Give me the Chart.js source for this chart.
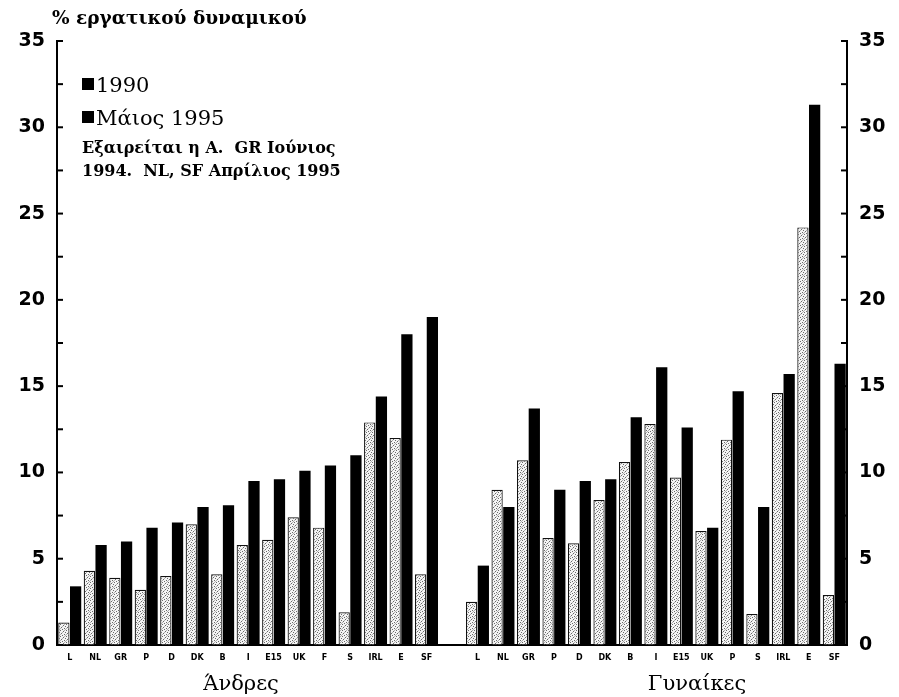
<!DOCTYPE html>
<html>
<head>
<meta charset="utf-8">
<script src="https://cdn.jsdelivr.net/npm/chart.js@4.4.1/dist/chart.umd.min.js"></script>
<style>
html,body{margin:0;padding:0;background:#fff;}
#c{display:block;}
</style>
</head>
<body>
<canvas id="c" width="899" height="697"></canvas>
<script>
// ---- data ----
const menLabels   = ['L','NL','GR','P','D','DK','B','I','E15','UK','F','S','IRL','E','SF'];
const womenLabels = ['L','NL','GR','P','D','DK','B','I','E15','UK','P','S','IRL','E','SF'];
const men1990   = [1.3, 4.3, 3.9, 3.2, 4.0, 7.0, 4.1, 5.8, 6.1, 7.4, 6.8, 1.9, 12.9, 12.0, 4.1];
const men1995   = [3.4, 5.8, 6.0, 6.8, 7.1, 8.0, 8.1, 9.5, 9.6, 10.1, 10.4, 11.0, 14.4, 18.0, 19.0];
const women1990 = [2.5, 9.0, 10.7, 6.2, 5.9, 8.4, 10.6, 12.8, 9.7, 6.6, 11.9, 1.8, 14.6, 24.2, 2.9];
const women1995 = [4.6, 8.0, 13.7, 9.0, 9.5, 9.6, 13.2, 16.1, 12.6, 6.8, 14.7, 8.0, 15.7, 31.3, 16.3];
const yTicksMax = 35;
const yStep = 5;
const seriesNames = ['1990', 'Μάιος 1995'];
const titleText = '% εργατικού δυναμικού';
const noteLines = ['Εξαιρείται η Α.  GR Ιούνιος', '1994.  NL, SF Απρίλιος 1995'];
const groupNames = ['Άνδρες', 'Γυναίκες'];

// combined categories with one blank spacer
const labels = [...menLabels, '', ...womenLabels];
const d1990 = [...men1990, null, ...women1990];
const d1995 = [...men1995, null, ...women1995];

// speckled pattern for 1990 bars
function makePattern(){
  const p = document.createElement('canvas');
  p.width = 6; p.height = 6;
  const g = p.getContext('2d');
  g.fillStyle = '#f4f4f4'; g.fillRect(0,0,6,6);
  g.fillStyle = '#6a6a6a';
  [[0,0],[3,1],[1,3],[4,4],[5,2],[2,5]].forEach(([x,y])=>g.fillRect(x,y,1,1));
  g.fillStyle = '#b0b0b0';
  [[2,2],[5,5],[0,4],[4,0]].forEach(([x,y])=>g.fillRect(x,y,1,1));
  return g.createPattern(p,'repeat');
}
const ctx = document.getElementById('c').getContext('2d');
const pattern = makePattern();

const SERIF = '"DejaVu Serif", "Liberation Serif", serif';

const decor = {
  id: 'decor',
  afterDraw(chart){
    const c = chart.ctx;
    const y = chart.scales.y;
    const a = chart.chartArea;
    c.save();
    // inward minor ticks
    c.strokeStyle = '#000'; c.lineWidth = 2;
    for (let v = 0; v <= yTicksMax; v += 2.5){
      const py = y.getPixelForValue(v);
      c.beginPath(); c.moveTo(a.left, py); c.lineTo(a.left + 6, py); c.stroke();
      c.beginPath(); c.moveTo(a.right - 6, py); c.lineTo(a.right, py); c.stroke();
    }
    // title
    c.fillStyle = '#000';
    c.textBaseline = 'alphabetic';
    c.textAlign = 'left';
    c.font = 'bold 18.5px ' + SERIF;
    c.fillText(titleText, 52, 24);
    // legend
    c.fillRect(82, 78, 12, 12);
    c.fillRect(82, 111, 12, 12);
    c.font = '21px ' + SERIF;
    c.fillText(seriesNames[0], 96, 92);
    c.fillText(seriesNames[1], 96, 125);
    c.font = 'bold 16px ' + SERIF;
    c.fillText(noteLines[0], 82, 153);
    c.fillText(noteLines[1], 82, 176);
    // group labels
    c.textAlign = 'center';
    c.font = '21px ' + SERIF;
    c.fillText(groupNames[0], 241, 690);
    c.fillText(groupNames[1], 697, 690);
    c.restore();
  }
};

const tickFont = {family: '"DejaVu Sans", "Liberation Sans", Arial, sans-serif', size: 19, weight: 'bold'};

new Chart(ctx, {
  type: 'bar',
  data: {
    labels: labels,
    datasets: [
      {label: seriesNames[0], data: d1990, backgroundColor: pattern, borderColor: '#111', borderWidth: 1.2,
       categoryPercentage: 0.92, barPercentage: 0.96},
      {label: seriesNames[1], data: d1995, backgroundColor: '#000', borderColor: '#000', borderWidth: 0,
       categoryPercentage: 0.92, barPercentage: 0.96}
    ]
  },
  options: {
    responsive: false,
    animation: false,
    devicePixelRatio: 1,
    layout: {padding: {top: 41, left: 0, right: 0, bottom: 0}},
    plugins: {legend: {display: false}, tooltip: {enabled: false}, title: {display: false}},
    scales: {
      x: {
        grid: {display: false, drawTicks: false},
        border: {display: true, color: '#000', width: 2},
        ticks: {autoSkip: false, maxRotation: 0, minRotation: 0, padding: 8, color: '#000',
                font: {family: '"DejaVu Sans", "Liberation Sans", Arial, sans-serif', size: 8, weight: 'bold'}},
        afterFit(s){ s.height = 52; }
      },
      y: {
        position: 'left', min: 0, max: yTicksMax,
        ticks: {stepSize: yStep, padding: 12, color: '#000', font: tickFont},
        grid: {drawOnChartArea: false, drawTicks: false},
        border: {display: true, color: '#000', width: 2},
        afterFit(s){ s.width = 57; }
      },
      y2: {
        position: 'right', min: 0, max: yTicksMax,
        ticks: {stepSize: yStep, padding: 12, color: '#000', font: tickFont},
        grid: {drawOnChartArea: false, drawTicks: false},
        border: {display: true, color: '#000', width: 2},
        afterFit(s){ s.width = 52; }
      }
    }
  },
  plugins: [decor]
});
</script>
</body>
</html>
